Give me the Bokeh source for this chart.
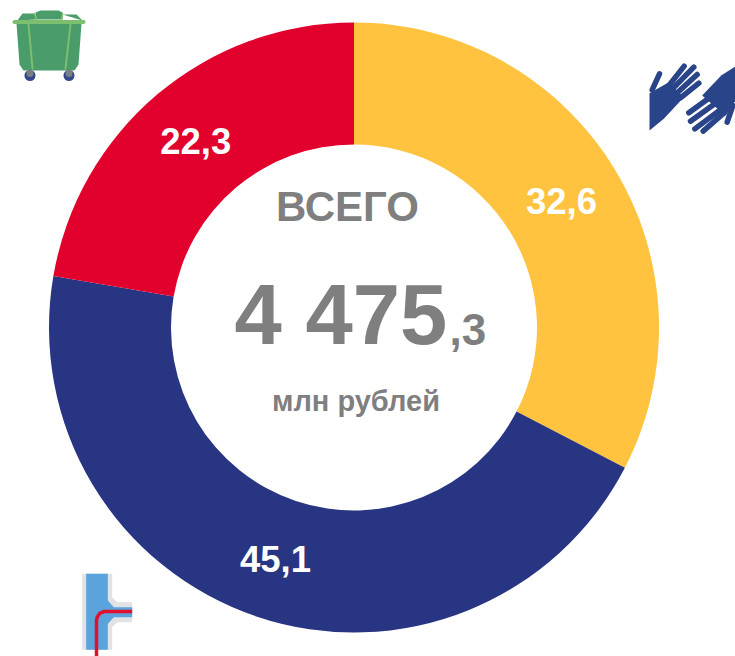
from math import pi, sin, cos
from bokeh.plotting import figure
from bokeh.models import Range1d, ColumnDataSource
from bokeh.core.properties import value
from bokeh.embed import file_html
from bokeh.resources import INLINE

categories = ["Социальная сфера", "Коммунальная инфраструктура", "Обращение с ТКО"]
shares = [32.6, 45.1, 22.3]
share_labels = ["32,6", "45,1", "22,3"]
colors = ["#FFC340", "#283583", "#E2002C"]

W, H = 735, 656
p = figure(width=W, height=H, x_range=Range1d(0, W), y_range=Range1d(0, H),
           output_backend="svg", toolbar_location=None, min_border=0, outline_line_color=None,
           background_fill_color="white", border_fill_color="white")
p.axis.visible = False
p.grid.visible = False

def Y(v):
    return H - v

CX, CY, RO, RI = 353.5, Y(327), 305, 183
total = sum(shares)
starts, ends, mids, c = [], [], [], 0.0
for v in shares:
    a0 = pi / 2 - 2 * pi * c / total
    c += v
    a1 = pi / 2 - 2 * pi * c / total
    starts.append(a0); ends.append(a1); mids.append((a0 + a1) / 2)

src = ColumnDataSource(dict(x=[CX] * 3, y=[CY] * 3, s=ends, e=starts, c=colors))
p.annular_wedge(x="x", y="y", inner_radius=RI, outer_radius=RO, start_angle="s", end_angle="e",
                direction="anticlock", fill_color="c", line_color=None, source=src)

RM = (RO + RI) / 2
lab = ColumnDataSource(dict(x=[CX - 1 + RM * cos(m) for m in mids],
                            y=[CY + RM * sin(m) for m in mids], t=share_labels))
FONT = value("Liberation Sans")
p.text(x="x", y="y", text="t", source=lab, text_color="white", text_font=FONT, text_font_style="bold",
       text_font_size="36.5px", text_align="center", text_baseline="middle")

GREY = "#7F7F7F"
def label(x, py, t, size, align="center"):
    p.text(x=[x], y=[Y(py)], text=[t], text_color=GREY, text_font=FONT, text_font_style="bold",
           text_font_size=f"{size}px", text_align=align, text_baseline="middle")
label(347, 206, "ВСЕГО", 42)
label(234, 314, "4 475", 85, "left")
label(449, 329, ",3", 44, "left")
label(355.5, 400, "млн рублей", 29)

# --- decorative icons -------------------------------------------------------
def poly(pts, color, ox=0, oy=0, k=1.0):
    p.patch([ox + a / k for a, b in pts], [Y(oy + b / k) for a, b in pts], fill_color=color, line_color=None)

def stroke(pts, color, w, ox=0, oy=0, k=1.0, cap="round"):
    p.line([ox + a / k for a, b in pts], [Y(oy + b / k) for a, b in pts], line_color=color,
           line_width=w, line_cap=cap, line_join="round")

# bin
G, L = "#4A9C6B", "#7CBF6E"
poly([(16, 23), (81, 23), (78, 64), (74, 70), (23, 70), (19, 64)], G)
poly([(17, 20), (22, 13), (34, 13), (36, 19)], G)
poly([(35, 12), (40, 10), (58, 10), (62, 12), (62, 19), (36, 19)], G)
poly([(62, 14), (76, 14), (82, 20)], G)
stroke([(14, 21.5), (83, 21.5)], L, 4)
stroke([(28, 24), (32, 68)], L, 2)
stroke([(70, 24), (65, 68)], L, 2)
stroke([(34, 13), (36, 19)], L, 1.5)
stroke([(62, 13), (61, 19)], L, 1.5)
for wx in (29.5, 68.5):
    p.scatter([wx], [Y(75)], size=11, marker="circle", fill_color="#34488F", line_color=None)
    p.scatter([wx], [Y(73)], size=7, marker="circle", fill_color="#7A7F80", line_color=None)

# hands
B = "#2A4489"
hx, hy, hk = 635, 50, 3.0
FW = 5.5
poly([(42, 128), (100, 95), (145, 140), (85, 205), (42, 240)], B, hx, hy, hk)
stroke([(50, 118), (72, 70)], B, FW, hx, hy, hk)
for a in ([(98, 108), (146, 47)], [(108, 118), (175, 50)], [(122, 130), (185, 72)], [(135, 142), (190, 98)]):
    stroke(a, B, FW, hx, hy, hk)
poly([(300, 48), (258, 74), (200, 135), (270, 196), (300, 150)], B, hx, hy, hk)
stroke([(275, 215), (292, 165)], B, FW, hx, hy, hk)
for a in ([(160, 187), (218, 145)], [(165, 212), (238, 160)], [(178, 235), (252, 180)], [(203, 242), (268, 185)]):
    stroke(a, B, FW, hx, hy, hk)

# pipe
px, py, pk = 60, 560, 3.0
poly([(65, 40), (155, 40), (155, 110), (170, 125), (215, 125), (215, 185), (170, 185), (155, 200), (155, 268), (65, 268)],
     "#E0E2E3", px, py, pk)
poly([(77, 40), (142, 40), (142, 120), (160, 140), (215, 140), (215, 170), (160, 170), (142, 190), (142, 268), (77, 268)],
     "#5BA3DC", px, py, pk)
stroke([(215, 153), (132, 153), (118, 158), (110, 170), (108, 180), (108, 290)], "#E0102F", 3.5, px, py, pk, cap="butt")

open("out.html", "w").write(file_html(p, INLINE))
